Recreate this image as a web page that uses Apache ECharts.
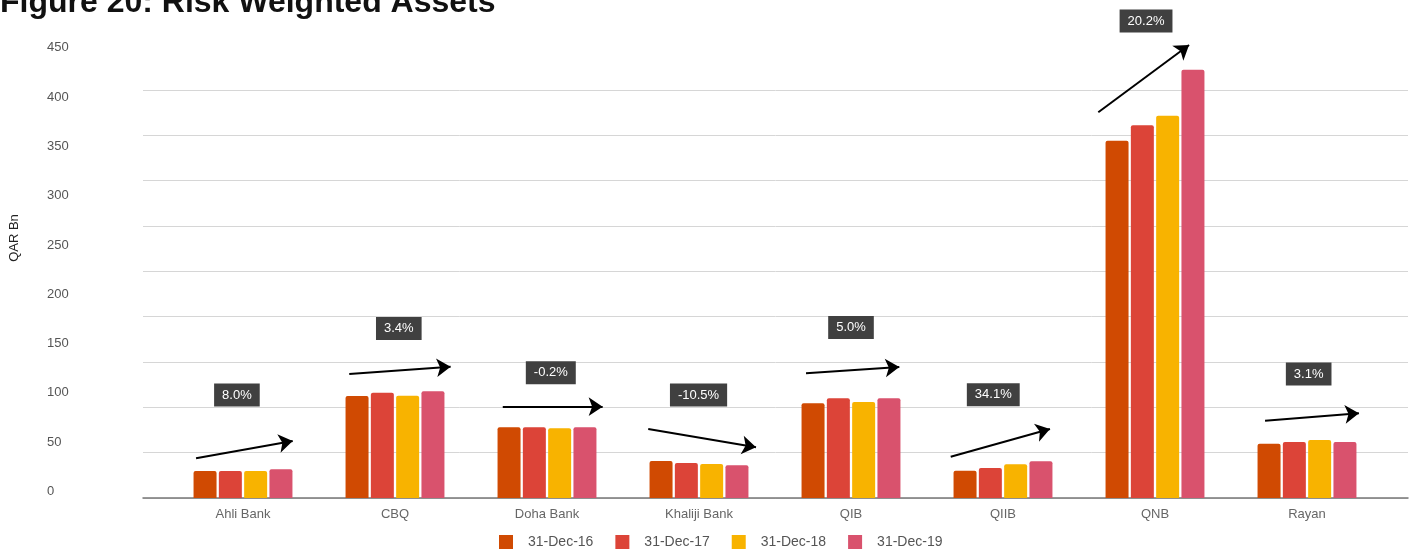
<!DOCTYPE html>
<html>
<head>
<meta charset="utf-8">
<script src="https://cdn.jsdelivr.net/npm/echarts@6/dist/echarts.min.js"></script>
<style>
html,body{margin:0;padding:0;background:#fff;}
#chart{width:1428px;height:559px;}
</style>
</head>
<body>
<div id="chart"></div>
<script>
// ---- data ----
const categories = ['Ahli Bank', 'CBQ', 'Doha Bank', 'Khaliji Bank', 'QIB', 'QIIB', 'QNB', 'Rayan'];
const seriesNames = ['31-Dec-16', '31-Dec-17', '31-Dec-18', '31-Dec-19'];
const rwa2016 = [27.4, 103.4, 71.7, 37.5, 96.0, 27.7, 362.3, 55.1];
const rwa2017 = [27.4, 106.8, 71.7, 35.5, 101.1, 30.4, 377.9, 56.8];
const rwa2018 = [27.4, 103.7, 70.7, 34.5, 97.3, 34.2, 387.7, 58.8];
const rwa2019 = [29.1, 108.2, 71.7, 33.2, 101.1, 37.2, 434.3, 56.8];
const changeLabels = ['8.0%', '3.4%', '-0.2%', '-10.5%', '5.0%', '34.1%', '20.2%', '3.1%'];
const yMin = 0, yMax = 450, yInterval = 50;

// ---- annotation placement (data coordinates: category index, value) ----
const labelPos = [[-0.04, 104.4], [1.025, 171.9], [2.025, 127.1], [2.997, 104.4], [4.0, 172.9], [4.936, 104.7], [5.941, 483.7], [7.011, 125.7]];
const arrowStart = [[-0.309, 40.3], [0.699, 125.7], [1.709, 92.6], [2.666, 70.0], [3.704, 126.4], [4.656, 41.9], [5.627, 391.1], [6.724, 78.4]];
const arrowEnd = [[0.327, 57.8], [1.366, 133.1], [2.366, 92.6], [3.375, 51.4], [4.318, 132.8], [5.309, 70.0], [6.224, 459.3], [7.342, 85.9]];

const colors = ['#D04A02', '#DC4438', '#F8B300', '#D9526D'];
const values = [rwa2016, rwa2017, rwa2018, rwa2019];
const FONT = 'Liberation Sans, Arial, sans-serif';

const chart = echarts.init(document.getElementById('chart'), null, {renderer: 'canvas'});

const barSeries = seriesNames.map((n, i) => ({
  name: n,
  type: 'bar',
  xAxisIndex: 1,
  yAxisIndex: 1,
  data: values[i],
  barWidth: 23,
  barGap: '10%',
  clip: false,
  itemStyle: {color: colors[i], borderRadius: [2, 2, 0, 0]},
  z: 3
}));

const option = {
  animation: false,
  color: colors,
  textStyle: {fontFamily: FONT},
  title: {
    text: 'Figure 20: Risk Weighted Assets',
    left: 0,
    top: -13,
    padding: 0,
    textStyle: {fontSize: 32, fontWeight: 'bold', color: '#111', fontFamily: FONT}
  },
  legend: {
    data: seriesNames,
    left: 499,
    top: 535,
    padding: 0,
    icon: 'rect',
    itemWidth: 14,
    itemHeight: 14,
    itemGap: 22,
    textStyle: {fontSize: 14, color: '#555', fontFamily: FONT, padding: [0, 0, 0, 10]}
  },
  grid: [
    {left: 143, right: 20, top: 90, bottom: 61},
    {left: 167, right: 45, top: 54.2, bottom: 61}
  ],
  xAxis: [
    {
      gridIndex: 0, type: 'value', min: 0, max: 1,
      axisLine: {show: true, lineStyle: {color: '#777', width: 1.5}},
      axisTick: {show: false}, axisLabel: {show: false}, splitLine: {show: false}
    },
    {
      gridIndex: 1, type: 'category', data: categories,
      axisLine: {show: false}, axisTick: {show: false},
      axisLabel: {color: '#666', fontSize: 13, margin: 10, fontFamily: FONT}
    },
    {
      gridIndex: 1, type: 'value', min: -0.5, max: 7.5, show: false
    }
  ],
  yAxis: [
    {
      gridIndex: 0, type: 'value', min: yMin, max: yMax, interval: yInterval,
      axisLine: {show: false}, axisTick: {show: false}, axisLabel: {show: false},
      splitLine: {show: true, lineStyle: {color: '#d6d6d6', width: 1}}
    },
    {
      gridIndex: 1, type: 'value', min: yMin, max: yMax, interval: yInterval,
      axisLine: {show: false}, axisTick: {show: false}, splitLine: {show: false},
      axisLabel: {color: '#555', fontSize: 13, align: 'left', verticalAlign: 'bottom', margin: 120, fontFamily: FONT}
    }
  ],
  graphic: [{
    type: 'text',
    x: 14, y: 238,
    rotation: Math.PI / 2,
    style: {text: 'QAR Bn', fill: '#222', fontSize: 13, fontFamily: FONT, align: 'center', verticalAlign: 'middle'}
  }],
  series: barSeries.concat([
    {
      name: 'change',
      type: 'scatter',
      xAxisIndex: 2,
      yAxisIndex: 1,
      clip: false,
      symbolSize: 1,
      itemStyle: {color: 'rgba(0,0,0,0)', opacity: 1},
      data: changeLabels.map((t, i) => [labelPos[i][0], labelPos[i][1], t]),
      label: {
        show: true,
        position: 'inside',
        formatter: p => p.data[2],
        backgroundColor: '#404040',
        color: '#fff',
        opacity: 1,
        fontSize: 13,
        fontFamily: FONT,
        padding: [5, 8]
      },
      z: 5
    },
    {
      name: 'trend',
      type: 'lines',
      coordinateSystem: 'cartesian2d',
      xAxisIndex: 2,
      yAxisIndex: 1,
      clip: false,
      symbol: ['none', 'arrow'],
      symbolSize: [11, 14],
      lineStyle: {color: '#000', width: 2, opacity: 1, curveness: 0},
      data: arrowStart.map((s, i) => ({coords: [s, arrowEnd[i]]})),
      z: 6
    }
  ])
};
chart.setOption(option);
</script>
</body>
</html>
